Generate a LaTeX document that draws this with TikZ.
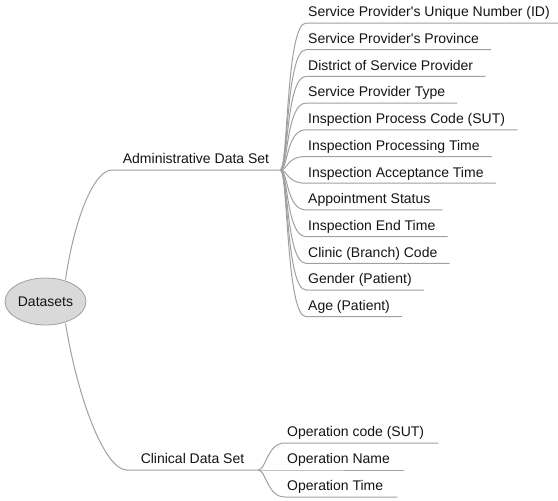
\documentclass[tikz,border=0pt]{standalone}
\usepackage{fontspec}
\setmainfont{Liberation Sans}[Ligatures=TeXOff]
\usepackage{tikz}
\usetikzlibrary{shapes.geometric}
\definecolor{linegray}{HTML}{A0A0A0}
\definecolor{rootfill}{HTML}{D9D9D9}
\definecolor{rootline}{HTML}{A0A0A0}
\definecolor{textdark}{HTML}{141414}
\tikzset{
    every node/.style={font=\fontsize{14}{16}\selectfont, text=textdark}
}
\tikzset{
    root/.style={ellipse, fill=rootfill, draw=rootline, line width=0.8pt,
    	minimum width=81pt, minimum height=47pt, inner sep=0pt},
    group/.style={minimum width=168pt, inner xsep=0pt, inner ysep=3pt,
    	text height=10pt, text depth=3pt, anchor=south},
    leaf/.style={anchor=south west, inner xsep=2pt, inner ysep=3pt,
    	text height=10pt, text depth=3pt},
    branch/.style={draw=linegray, line width=1pt}
}

\begin{document}
\begin{tikzpicture}[x=1pt, y=-1pt]
  \useasboundingbox (0,0) rectangle (558,501);

  \node (root) [root] at (45.5,301.5) {Datasets};

  \node (adm) [group] at (196,170) {Administrative Data Set};
  \node (clin) [group, minimum width=131pt] at (192.5,470) {Clinical Data Set};

  \node (a1) [leaf] at (306,23) {Service Provider's Unique Number (ID)};
  \node (a2) [leaf] at (306,49.7) {Service Provider's Province};
  \node (a3) [leaf] at (306,76.4) {District of Service Provider};
  \node (a4) [leaf] at (306,103.1) {Service Provider Type};
  \node (a5) [leaf] at (306,129.8) {Inspection Process Code (SUT)};
  \node (a6) [leaf] at (306,156.5) {Inspection Processing Time};
  \node (a7) [leaf] at (306,183.2) {Inspection Acceptance Time};
  \node (a8) [leaf] at (306,209.9) {Appointment Status};
  \node (a9) [leaf] at (306,236.6) {Inspection End Time};
  \node (a10) [leaf] at (306,263.3) {Clinic (Branch) Code};
  \node (a11) [leaf] at (306,290) {Gender (Patient)};
  \node (a12) [leaf] at (306,316.7) {Age (Patient)};

  \node (c1) [leaf] at (285,443) {Operation code (SUT)};
  \node (c2) [leaf] at (285,470) {Operation Name};
  \node (c3) [leaf] at (285,497) {Operation Time};

  \draw [branch] (root.north) ++(20,2) .. controls (75,215) and (95,170) .. (adm.south west) -- (adm.south east);
  \draw [branch] (root.south) ++(20,-2) .. controls (78,400) and (105,470) .. (clin.south west) -- (clin.south east);

  \foreach \n in {a1,a2,a3,a4,a5,a6,a7,a8,a9,a10,a11,a12}
    \draw [branch] (adm.south east) .. controls +(8,0) and +(-20,0) .. (\n.south west) -- ([xshift=10pt]\n.south east);
  \foreach \n in {c1,c2,c3}
    \draw [branch] (clin.south east) .. controls +(8,0) and +(-18,0) .. (\n.south west) -- ([xshift=12pt]\n.south east);
\end{tikzpicture}
\end{document}
